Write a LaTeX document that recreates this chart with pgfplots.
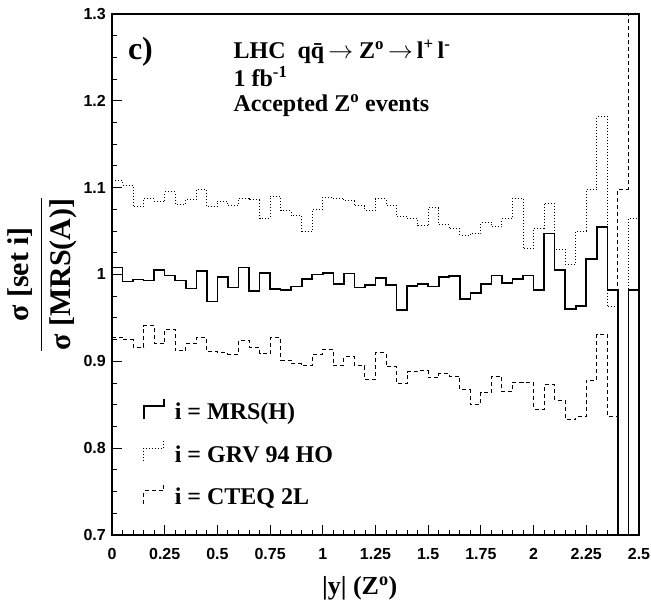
\documentclass[border=0pt]{standalone}
\usepackage{pgfplots}
\usepackage{pgfplotstable}
\pgfplotsset{compat=1.18}
\usepackage{fontspec}
\setmainfont{Liberation Serif}
\newfontfamily\helv{Liberation Sans}

\pgfplotstableread{
x y
0.00 1.008
0.05 0.992
0.10 0.994
0.15 0.993
0.20 1.005
0.25 0.999
0.30 0.993
0.35 0.984
0.40 1.004
0.45 0.969
0.50 0.997
0.55 0.985
0.60 1.008
0.65 0.981
0.70 1.002
0.75 0.983
0.80 0.982
0.85 0.986
0.90 0.995
0.95 1.000
1.00 1.002
1.05 0.989
1.10 1.001
1.15 0.985
1.20 0.988
1.25 0.996
1.30 0.988
1.35 0.959
1.40 0.987
1.45 0.989
1.50 0.986
1.55 0.997
1.60 0.998
1.65 0.972
1.70 0.979
1.75 0.989
1.80 0.999
1.85 0.990
1.90 0.995
1.95 0.999
2.00 0.982
2.05 1.047
2.10 1.005
2.15 0.960
2.20 0.964
2.25 1.018
2.30 1.055
2.35 0.982
2.40 0.000
2.45 0.982
2.50 0.982
}\mrsh

\pgfplotstableread{
x y
0.00 1.108
0.05 1.103
0.10 1.078
0.15 1.087
0.20 1.084
0.25 1.095
0.30 1.081
0.35 1.086
0.40 1.098
0.45 1.078
0.50 1.084
0.55 1.079
0.60 1.087
0.65 1.086
0.70 1.065
0.75 1.090
0.80 1.074
0.85 1.068
0.90 1.050
0.95 1.075
1.00 1.089
1.05 1.088
1.10 1.085
1.15 1.079
1.20 1.074
1.25 1.087
1.30 1.079
1.35 1.067
1.40 1.064
1.45 1.056
1.50 1.077
1.55 1.057
1.60 1.053
1.65 1.045
1.70 1.047
1.75 1.060
1.80 1.055
1.85 1.064
1.90 1.088
1.95 1.030
2.00 1.053
2.05 1.082
2.10 1.029
2.15 1.012
2.20 1.050
2.25 1.098
2.30 1.182
2.35 0.963
2.40 0.000
2.45 1.064
2.50 1.064
}\grv

\pgfplotstableread{
x y
0.00 0.928
0.05 0.925
0.10 0.916
0.15 0.941
0.20 0.920
0.25 0.937
0.30 0.912
0.35 0.920
0.40 0.927
0.45 0.911
0.50 0.910
0.55 0.908
0.60 0.924
0.65 0.916
0.70 0.909
0.75 0.927
0.80 0.901
0.85 0.897
0.90 0.895
0.95 0.908
1.00 0.914
1.05 0.895
1.10 0.905
1.15 0.895
1.20 0.879
1.25 0.910
1.30 0.894
1.35 0.874
1.40 0.888
1.45 0.889
1.50 0.881
1.55 0.886
1.60 0.883
1.65 0.867
1.70 0.850
1.75 0.864
1.80 0.883
1.85 0.865
1.90 0.876
1.95 0.876
2.00 0.845
2.05 0.873
2.10 0.855
2.15 0.833
2.20 0.836
2.25 0.878
2.30 0.931
2.35 0.836
2.40 1.098
2.45 2.000
2.50 2.000
}\cteq

\begin{document}
\begin{tikzpicture}
\begin{axis}[
  at={(0pt,0pt)}, anchor=south west,
  scale only axis,
  width=527pt, height=521pt,
  xmin=0, xmax=2.5, ymin=0.7, ymax=1.3,
  xtick={0,0.25,0.5,0.75,1,1.25,1.5,1.75,2,2.25,2.5},
  ytick={0.7,0.8,0.9,1,1.1,1.2,1.3},
  minor x tick num=4, minor y tick num=3,
  tick align=inside, tick pos=left,
  major tick length=10pt, minor tick length=5pt,
  every tick/.style={line width=0.9pt, black},
  axis line style={line width=1.2pt},
  /pgf/number format/assume math mode=true,
  ticklabel style={font=\helv\bfseries\fontsize{16}{17}\selectfont, inner sep=0pt},
  xticklabel style={anchor=north, yshift=-13pt},
  yticklabel style={anchor=east, xshift=-6pt},
  xlabel={|y| (Z\textsuperscript{o})},
  xlabel style={font=\bfseries\fontsize{26}{28}\selectfont, at={(axis description cs:0.47,0)}, anchor=center, yshift=-53pt},
  ylabel={\setlength{\arrayrulewidth}{1.3pt}\begin{tabular}{@{}c@{}}σ [set i]\\[2pt]\hline\rule{0pt}{29pt}σ [MRS(A)]\end{tabular}},
  ylabel style={font=\bfseries\fontsize{30}{32}\selectfont, at={(axis description cs:-0.13,0.5)}, anchor=center},
  legend style={at={(axis cs:0.147,0.858)}, anchor=north west, draw=none, fill=none,
    font=\bfseries\fontsize{24}{24}\selectfont, inner sep=0pt, row sep=16pt, column sep=10pt,
    nodes={inner sep=0pt, text height=17pt, text depth=5pt}},
  legend cell align=left,
  legend image code/.code={\draw[#1] (0pt,-5pt) -- (0pt,8pt) -- (20pt,8pt) -- (20pt,15pt);},
]
\addplot[const plot mark left, black, line width=1.6pt] table[x=x,y=y] {\mrsh};
\addlegendentry{i = MRS(H)}
\addplot[const plot mark left, black, line width=1pt, dash pattern=on 1pt off 2pt] table[x=x,y=y] {\grv};
\addlegendentry{i = GRV 94 HO}
\addplot[const plot mark left, black, line width=1pt, dash pattern=on 4pt off 3pt] table[x=x,y=y] {\cteq};
\addlegendentry{i = CTEQ 2L}
\node[anchor=base west, font=\bfseries\fontsize{32}{34}\selectfont, inner sep=0pt] at (axis cs:0.075,1.248) {c)};
\node[anchor=base west, font=\bfseries\fontsize{24}{26}\selectfont, inner sep=0pt] at (axis cs:0.576,1.249) {LHC\ \ q\={q}\,$\rightarrow$\ Z\textsuperscript{o}\,$\rightarrow$\,l\textsuperscript{+}\,l\textsuperscript{-}};
\node[anchor=base west, font=\bfseries\fontsize{24}{26}\selectfont, inner sep=0pt] at (axis cs:0.576,1.216) {1 fb\textsuperscript{-1}};
\node[anchor=base west, font=\bfseries\fontsize{24}{26}\selectfont, inner sep=0pt] at (axis cs:0.576,1.188) {Accepted Z\textsuperscript{o} events};
\end{axis}
\pgfresetboundingbox
\path[use as bounding box] (-112pt,-66pt) rectangle (539pt,535pt);
\end{tikzpicture}
\end{document}
